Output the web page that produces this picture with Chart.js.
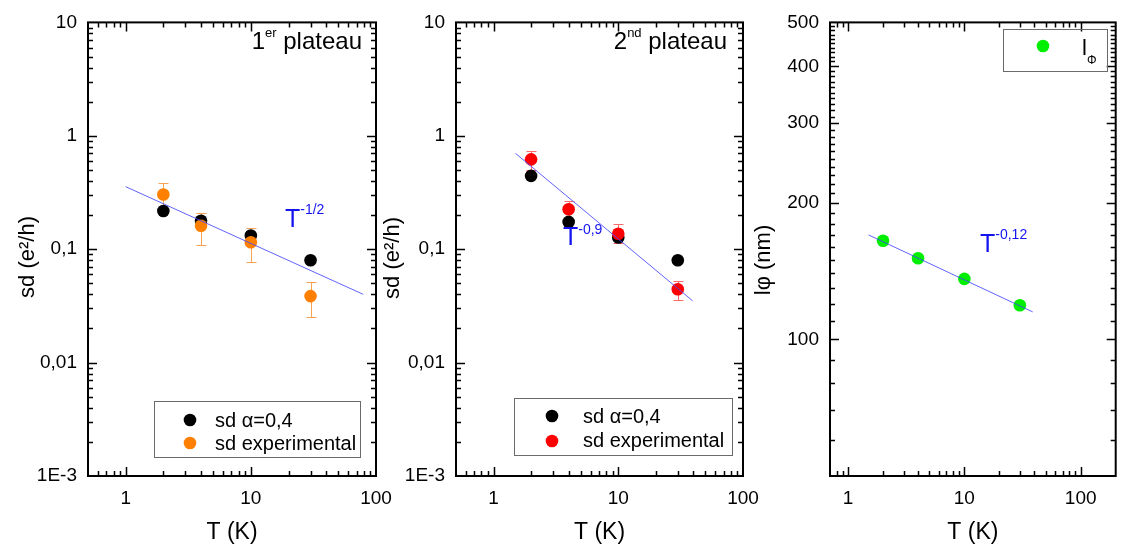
<!DOCTYPE html>
<html>
<head>
<meta charset="utf-8">
<script src="https://cdn.jsdelivr.net/npm/chart.js@4/dist/chart.umd.min.js"></script>
<style>
  html, body { margin: 0; padding: 0; background: #fff; }
  #wrap { position: relative; width: 1122px; height: 554px; }
  #wrap canvas { position: absolute; left: 0; top: 0; }
</style>
</head>
<body>
<div id="wrap">
  <canvas id="c1" width="1122" height="554"></canvas>
  <canvas id="c2" width="1122" height="554"></canvas>
  <canvas id="c3" width="1122" height="554"></canvas>
</div>
<script>
// ---- données ----
const tempK = [2, 4, 10, 30];

// 1er plateau
const sd1Model = [0.217, 0.178, 0.132, 0.080];
const sd1Exp = [0.304, 0.161, 0.115, 0.0386];
const sd1ExpLow = [0.22, 0.108, 0.077, 0.0254];
const sd1ExpHigh = [0.385, 0.209, 0.155, 0.051];
const fit1T = [1, 79];
const fit1Y = [0.356, 0.040];

// 2nd plateau
const sd2Model = [0.443, 0.174, 0.127, 0.080];
const sd2Exp = [0.62, 0.225, 0.137, 0.0443];
const sd2ExpLow = [0.50, 0.185, 0.113, 0.0357];
const sd2ExpHigh = [0.74, 0.264, 0.167, 0.052];
const fit2T = [1.5, 39.5];
const fit2Y = [0.70, 0.035];

// longueur de cohérence
const lphi = [165, 151, 136, 119];
const fit3T = [1.5, 38.7];
const fit3Y = [170, 115];

// graduations
const xTicks = [1, 10, 100];
const xTickLabels = ['1', '10', '100'];
const sdTicks = [0.001, 0.01, 0.1, 1, 10];
const sdTickLabels = ['1E-3', '0,01', '0,1', '1', '10'];
const lphiTicks = [100, 200, 300, 400, 500];
const lphiTickLabels = ['100', '200', '300', '400', '500'];

const FONT = '"Liberation Sans", Arial, sans-serif';
const BLUE = '#1414f0';
const W = 1122, H = 554;

function pts(xs, ys) { return xs.map((x, i) => ({ x: x, y: ys[i] })); }

// graduations log (majeures à 10^k, mineures m*10^k)
function logMarks(min, max) {
  const out = [];
  for (let k = Math.floor(Math.log10(min)); k <= Math.ceil(Math.log10(max)); k++) {
    for (let m = 1; m < 10; m++) {
      const v = m * Math.pow(10, k);
      if (v > min * 1.0001 && v < max * 0.9999) out.push({ v: v, major: m === 1 });
    }
  }
  return out;
}

// texte avec exposants / indices
function drawRuns(ctx, x, y, runs, align) {
  let w = 0;
  runs.forEach(r => { ctx.font = r.size + 'px ' + FONT; r.w = ctx.measureText(r.t).width; w += r.w; });
  let cx = align === 'right' ? x - w : x;
  ctx.textAlign = 'left';
  ctx.textBaseline = 'alphabetic';
  runs.forEach(r => {
    ctx.font = r.size + 'px ' + FONT;
    ctx.fillText(r.t, cx, y + (r.dy || 0));
    cx += r.w;
  });
}

// plugin : cadre, graduations internes, barres d'erreur, légende, textes
const decor = {
  id: 'decor',
  beforeDatasetsDraw(chart, args, o) {
    const ctx = chart.ctx, xs = chart.scales.x, ys = chart.scales.y;
    (o.errors || []).forEach(e => {
      ctx.save();
      ctx.strokeStyle = e.color;
      ctx.lineWidth = 1;
      e.x.forEach((t, i) => {
        const px = Math.round(xs.getPixelForValue(t)) + 0.5;
        const y1 = Math.round(ys.getPixelForValue(e.low[i])) + 0.5;
        const y2 = Math.round(ys.getPixelForValue(e.high[i])) + 0.5;
        ctx.beginPath();
        ctx.moveTo(px, y1); ctx.lineTo(px, y2);
        ctx.moveTo(px - 5, y1); ctx.lineTo(px + 5, y1);
        ctx.moveTo(px - 5, y2); ctx.lineTo(px + 5, y2);
        ctx.stroke();
      });
      ctx.restore();
    });
  },
  afterDraw(chart, args, o) {
    const ctx = chart.ctx, a = chart.chartArea, xs = chart.scales.x, ys = chart.scales.y;
    ctx.save();
    // graduations sur les quatre côtés, vers l'intérieur
    ctx.strokeStyle = '#000';
    ctx.lineWidth = 1.5;
    ctx.beginPath();
    logMarks(xs.min, xs.max).forEach(m => {
      const px = Math.round(xs.getPixelForValue(m.v)) + 0.5;
      const len = m.major ? 9 : 5;
      ctx.moveTo(px, a.bottom); ctx.lineTo(px, a.bottom - len);
      ctx.moveTo(px, a.top); ctx.lineTo(px, a.top + len);
    });
    o.yMarks(ys.min, ys.max).forEach(m => {
      const py = Math.round(ys.getPixelForValue(m.v)) + 0.5;
      const len = m.major ? 9 : 5;
      ctx.moveTo(a.left, py); ctx.lineTo(a.left + len, py);
      ctx.moveTo(a.right, py); ctx.lineTo(a.right - len, py);
    });
    ctx.stroke();
    ctx.lineWidth = 2;
    ctx.strokeRect(a.left, a.top, a.right - a.left, a.bottom - a.top);

    // légende
    const lg = o.legend;
    ctx.lineWidth = 1;
    ctx.strokeStyle = '#6a6a6a';
    ctx.strokeRect(lg.box[0] + 0.5, lg.box[1] + 0.5, lg.box[2] - lg.box[0], lg.box[3] - lg.box[1]);
    lg.rows.forEach(r => {
      ctx.fillStyle = chart.data.datasets[r.ds].backgroundColor;
      ctx.beginPath();
      ctx.arc(r.mx, r.my, 6.3, 0, Math.PI * 2);
      ctx.fill();
      ctx.fillStyle = '#000';
      drawRuns(ctx, r.tx, r.ty, r.runs, 'left');
    });

    // annotations
    (o.notes || []).forEach(n => {
      ctx.fillStyle = n.color;
      drawRuns(ctx, n.x, n.y, n.runs, n.align);
    });

    // titres des axes
    ctx.fillStyle = '#000';
    ctx.font = '23px ' + FONT;
    ctx.textAlign = 'center';
    ctx.textBaseline = 'middle';
    ctx.fillText(o.xTitle, (a.left + a.right) / 2, 533);
    ctx.save();
    ctx.translate(o.yTitleX, o.yTitleY);
    ctx.rotate(-Math.PI / 2);
    ctx.font = '22px ' + FONT;
    ctx.fillText(o.yTitle, 0, 0);
    ctx.restore();
    ctx.restore();
  }
};

function makePanel(id, area, padLeft, xMin, xMax, yMin, yMax, yVals, yLbls, datasets, deco) {
  const tickFont = { family: FONT, size: 19 };
  return new Chart(document.getElementById(id), {
    type: 'scatter',
    data: { datasets: datasets },
    options: {
      responsive: false,
      animation: false,
      events: [],
      layout: { padding: { left: padLeft, right: W - area.right, top: area.top, bottom: 0 } },
      plugins: { legend: { display: false }, tooltip: { enabled: false }, decor: deco },
      scales: {
        x: {
          type: 'logarithmic', min: xMin, max: xMax,
          grid: { display: false, drawTicks: false }, border: { display: false },
          ticks: {
            autoSkip: false, maxRotation: 0, padding: 11, color: '#000', font: tickFont,
            callback: v => xTickLabels[xTicks.indexOf(v)]
          },
          afterBuildTicks: s => { s.ticks = xTicks.map(v => ({ value: v })); },
          afterFit: s => { s.height = H - area.bottom; }
        },
        y: {
          type: 'logarithmic', min: yMin, max: yMax,
          grid: { display: false, drawTicks: false }, border: { display: false },
          ticks: {
            autoSkip: false, padding: 11, color: '#000', font: tickFont,
            callback: v => yLbls[yVals.indexOf(v)]
          },
          afterBuildTicks: s => { s.ticks = yVals.map(v => ({ value: v })); },
          afterFit: s => { s.width = area.left - padLeft; }
        }
      }
    },
    plugins: [decor]
  });
}

function dotSet(label, xs, ys, color, order) {
  return {
    label: label, data: pts(xs, ys), backgroundColor: color, borderWidth: 0,
    pointRadius: 6.3, pointHoverRadius: 6.3, order: order
  };
}
function fitSet(xs, ys) {
  return {
    type: 'line', label: 'fit', data: pts(xs, ys), showLine: true, pointRadius: 0,
    borderColor: 'rgba(70,70,255,0.85)', borderWidth: 1, order: 0
  };
}

// ---- panneau 1 : 1er plateau ----
makePanel('c1', { left: 88, right: 376, top: 13, bottom: 476 }, 0, 0.5, 100, 0.001, 10,
  sdTicks, sdTickLabels,
  [dotSet('sd α=0,4', tempK, sd1Model, '#000000', 2),
   dotSet('sd experimental', tempK, sd1Exp, '#ff8000', 1),
   fitSet(fit1T, fit1Y)],
  {
    yMarks: logMarks,
    errors: [{ x: tempK, low: sd1ExpLow, high: sd1ExpHigh, color: '#f7a352' }],
    legend: {
      box: [154, 401, 360, 457],
      rows: [
        { ds: 0, mx: 190, my: 420, tx: 215, ty: 427, runs: [{ t: 'sd α=0,4', size: 20 }] },
        { ds: 1, mx: 190, my: 443, tx: 215, ty: 450, runs: [{ t: 'sd experimental', size: 20 }] }
      ]
    },
    notes: [
      { x: 362, y: 49, align: 'right', color: '#000',
        runs: [{ t: '1', size: 24 }, { t: 'er', size: 13, dy: -12 }, { t: ' plateau', size: 24 }] },
      { x: 285, y: 227, color: BLUE, runs: [{ t: 'T', size: 25 }, { t: '-1/2', size: 14, dy: -13 }] }
    ],
    xTitle: 'T (K)',
    yTitle: 'sd (e²/h)', yTitleX: 28, yTitleY: 257
  });

// ---- panneau 2 : 2nd plateau ----
makePanel('c2', { left: 456, right: 743, top: 13, bottom: 476 }, 380, 0.5, 100, 0.001, 10,
  sdTicks, sdTickLabels,
  [dotSet('sd α=0,4', tempK, sd2Model, '#000000', 2),
   dotSet('sd experimental', tempK, sd2Exp, '#ff0000', 1),
   fitSet(fit2T, fit2Y)],
  {
    yMarks: logMarks,
    errors: [{ x: tempK, low: sd2ExpLow, high: sd2ExpHigh, color: '#ff6a6a' }],
    legend: {
      box: [514, 398, 732, 455],
      rows: [
        { ds: 0, mx: 552, my: 416, tx: 583, ty: 423, runs: [{ t: 'sd α=0,4', size: 20 }] },
        { ds: 1, mx: 552, my: 441, tx: 583, ty: 447, runs: [{ t: 'sd experimental', size: 20 }] }
      ]
    },
    notes: [
      { x: 727, y: 49, align: 'right', color: '#000',
        runs: [{ t: '2', size: 24 }, { t: 'nd', size: 13, dy: -12 }, { t: ' plateau', size: 24 }] },
      { x: 563, y: 245, color: BLUE, runs: [{ t: 'T', size: 25 }, { t: '-0,9', size: 14, dy: -11 }] }
    ],
    xTitle: 'T (K)',
    yTitle: 'sd (e²/h)', yTitleX: 393, yTitleY: 258
  });

// ---- panneau 3 : lφ ----
makePanel('c3', { left: 830, right: 1117, top: 13, bottom: 476 }, 745, 0.7, 200, 50, 500,
  lphiTicks, lphiTickLabels,
  [dotSet('lΦ', tempK, lphi, '#00ee00', 1),
   fitSet(fit3T, fit3Y)],
  {
    // mineures tous les 10 nm
    yMarks: (min, max) => {
      const out = [];
      for (let v = 60; v < max; v += 10) out.push({ v: v, major: v % 100 === 0 });
      return out;
    },
    legend: {
      box: [1003, 29, 1107, 71],
      rows: [
        { ds: 0, mx: 1043, my: 46, tx: 1082, ty: 55,
          runs: [{ t: 'l', size: 22 }, { t: 'Φ', size: 12, dy: 9 }] }
      ]
    },
    notes: [
      { x: 980, y: 252, color: BLUE, runs: [{ t: 'T', size: 25 }, { t: '-0,12', size: 14, dy: -13 }] }
    ],
    xTitle: 'T (K)',
    yTitle: 'lφ (nm)', yTitleX: 764, yTitleY: 260
  });
</script>
</body>
</html>
